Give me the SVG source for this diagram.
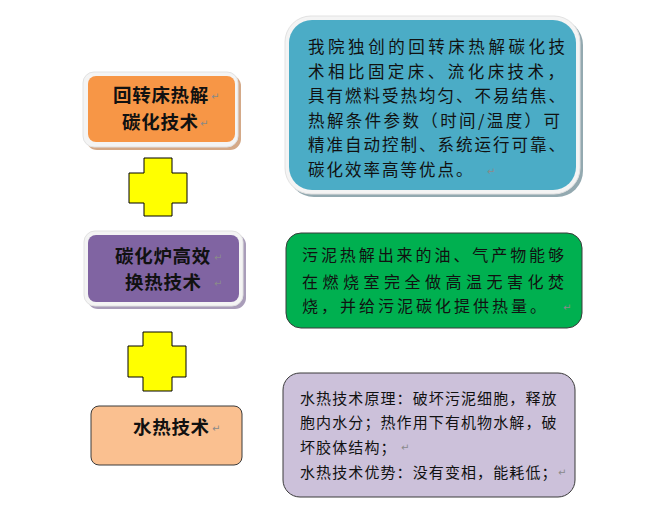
<svg xmlns="http://www.w3.org/2000/svg" width="647" height="514" viewBox="0 0 647 514">
<style>
.title{font-family:"Noto Sans CJK SC","Noto Sans",sans-serif;font-size:18.5px;font-weight:bold;fill:#111;letter-spacing:0.7px}
.body{font-family:"Noto Sans CJK SC","Noto Sans",sans-serif;fill:#111}
.ret{font-family:"DejaVu Sans",sans-serif;font-size:10px;fill:#8a8a8a}
.frame{fill:#f4f4f4;stroke:#e2e2e2;stroke-width:1}
.cross{fill:#FFFF00;stroke:#000;stroke-width:1}
.plain{stroke:#3a3a3a;stroke-width:1}
</style>
<rect width="647" height="514" fill="#fff"/>
<g id="node-rotary">
<rect x="86" y="75" width="155" height="75" rx="11" fill="#D4A988"/>
<rect x="83" y="72" width="155" height="75" rx="11" class="frame"/>
<rect x="88" y="76" width="147" height="66" rx="8" fill="#F79646"/>
<text class="title" x="113" y="101.5">回转床热解</text>
<text class="ret" x="211" y="100">↵</text>
<text class="title" x="122" y="128.5">碳化技术</text>
<text class="ret" x="200" y="127">↵</text>
</g>
<g id="node-rotary-desc">
<rect x="288" y="19" width="295" height="178" rx="26" fill="#93A9B0"/>
<rect x="285" y="16" width="295" height="178" rx="26" class="frame"/>
<rect x="289" y="20" width="287" height="170" rx="23" fill="#4BACC6"/>
<g class="body" font-size="16.5">
<text x="308" y="52.5" textLength="257" lengthAdjust="spacing">我院独创的回转床热解碳化技</text>
<text x="308" y="77.5" textLength="256" lengthAdjust="spacing">术相比固定床、流化床技术，</text>
<text x="308" y="102" textLength="257" lengthAdjust="spacing">具有燃料受热均匀、不易结焦、</text>
<text x="308" y="127" textLength="252" lengthAdjust="spacing">热解条件参数（时间/温度）可</text>
<text x="308" y="151" textLength="257" lengthAdjust="spacing">精准自动控制、系统运行可靠、</text>
<text x="308" y="176" letter-spacing="2">碳化效率高等优点。</text>
</g>
<text class="ret" x="487" y="175">↵</text>
</g>
<g id="node-furnace">
<rect x="87" y="234" width="159" height="75" rx="11" fill="#A99DB9"/>
<rect x="84" y="231" width="159" height="75" rx="11" class="frame"/>
<rect x="88" y="235" width="151" height="67" rx="8" fill="#8064A2"/>
<text class="title" x="115" y="262.5">碳化炉高效</text>
<text class="ret" x="214" y="261">↵</text>
<text class="title" x="125" y="288.5">换热技术</text>
<text class="ret" x="214" y="287">↵</text>
</g>
<g id="node-furnace-desc">
<rect x="286" y="233" width="296" height="95" rx="15" fill="#00B050" class="plain"/>
<g class="body" font-size="16">
<text x="302" y="261" textLength="262" lengthAdjust="spacing">污泥热解出来的油、气产物能够</text>
<text x="302" y="287.5" textLength="262" lengthAdjust="spacing">在燃烧室完全做高温无害化焚</text>
<text x="302" y="312" letter-spacing="3">烧，并给污泥碳化提供热量。</text>
</g>
<text class="ret" x="563" y="311">↵</text>
</g>
<g id="node-hydro">
<rect x="91" y="406" width="151" height="59" rx="8" fill="#FAC090" class="plain"/>
<text class="title" x="133" y="433.5">水热技术</text>
<text class="ret" x="212" y="432">↵</text>
</g>
<g id="node-hydro-desc">
<rect x="283" y="373" width="292" height="124" rx="17" fill="#CCC1DA" class="plain"/>
<g class="body" font-size="15" letter-spacing="1.1">
<text x="300" y="403.5">水热技术原理：破坏污泥细胞，释放</text>
<text x="300" y="427.5">胞内水分；热作用下有机物水解，破</text>
<text x="300" y="452.5">坏胶体结构；</text>
<text x="300" y="477.5">水热技术优势：没有变相，能耗低；</text>
</g>
<text class="ret" x="401" y="451">↵</text>
<text class="ret" x="558" y="476">↵</text>
</g>
<g id="connectors">
<path class="cross" d="M144,158 H172 V173 H187 V203 H172 V216 H144 V203 H129 V173 H144 Z"/>
<path class="cross" d="M143,332 H172 V346 H186 V377 H172 V391 H143 V377 H128 V346 H143 Z"/>
</g>
</svg>
